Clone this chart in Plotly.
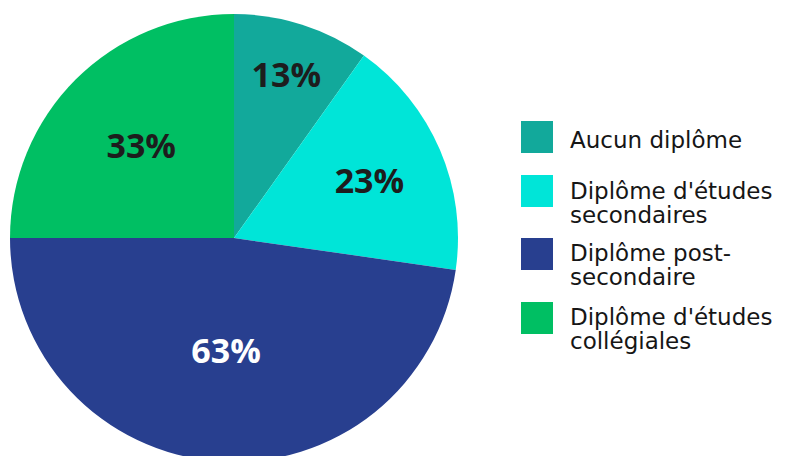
import plotly.graph_objects as go

categories = ["Aucun diplôme", "Diplôme d'études secondaires",
              "Diplôme post-secondaire", "Diplôme d'études collégiales"]
legend_lines = [["Aucun diplôme"],
                ["Diplôme d'études", "secondaires"],
                ["Diplôme post-", "secondaire"],
                ["Diplôme d'études", "collégiales"]]
values = [13, 23, 63, 33]
colors = ["#12A99B", "#00E5D8", "#283F8F", "#00BF63"]
text_colors = ["#1d1d1d", "#1d1d1d", "#ffffff", "#1d1d1d"]

W, H = 790, 456
OFF = 8  # default page body margin


def py(y):  # window pixel (from top) -> paper fraction
    return 1 - (y - OFF) / H


def px(x):
    return (x - OFF) / W


fig = go.Figure()
fig.add_trace(go.Pie(
    labels=categories,
    values=values,
    marker=dict(colors=colors, line=dict(width=0)),
    sort=False,
    direction="clockwise",
    rotation=0,
    texttemplate="%{value}%",
    textposition="inside",
    insidetextorientation="horizontal",
    insidetextfont=dict(color=text_colors, size=34, family="Open Sans", weight="bold"),
    hoverinfo="label+value",
    showlegend=False,
    domain=dict(x=[px(10), px(458)], y=[py(462), py(14)]),
))

# Legend drawn with square swatches
sq_tops = [121, 175, 238, 302]
first_baselines = [148, 199, 261, 325]
line_gap = 24
fsize = 23
shapes = []
annotations = []
for i, col in enumerate(colors):
    t = sq_tops[i]
    shapes.append(dict(type="rect", xref="paper", yref="paper",
                       x0=px(521), x1=px(553), y0=py(t + 32), y1=py(t),
                       fillcolor=col, line=dict(width=0)))
    for j, line in enumerate(legend_lines[i]):
        base = first_baselines[i] + j * line_gap
        annotations.append(dict(xref="paper", yref="paper", x=px(568), y=py(base - 0.36 * fsize),
                                xanchor="left", yanchor="middle", showarrow=False, align="left",
                                text=line, font=dict(family="DejaVu Sans", size=fsize, color="#161616")))

fig.update_layout(
    width=W, height=H,
    margin=dict(l=0, r=0, t=0, b=0),
    paper_bgcolor="white", plot_bgcolor="white",
    shapes=shapes, annotations=annotations,
)
fig.write_html("out.html")
